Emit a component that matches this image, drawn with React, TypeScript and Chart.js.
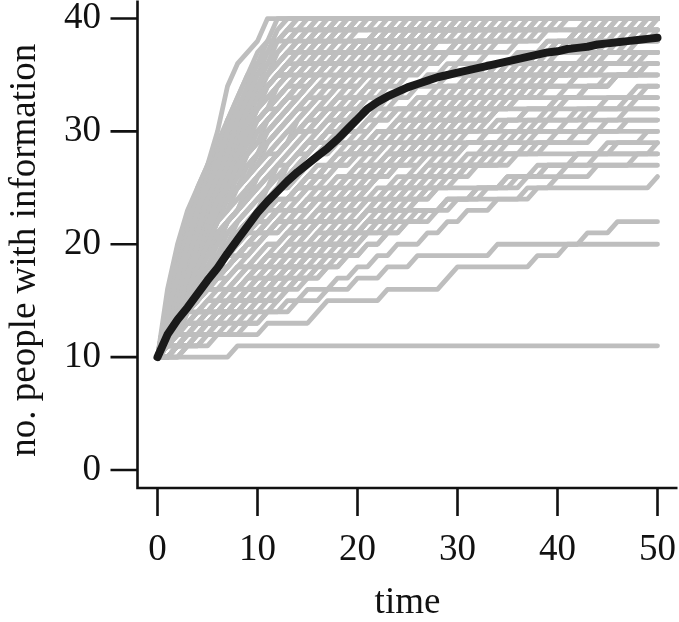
import React, { useEffect, useRef } from "react";
import { Chart, registerables } from "chart.js";

Chart.register(...registerables);

// ---------- data ----------
const initialInformed = 10;
const timePoints = [
  0, 1, 2, 3, 4, 5, 6, 7, 8, 9, 10, 11, 12, 13, 14, 15, 16, 17, 18, 19, 20,
  21, 22, 23, 24, 25, 26, 27, 28, 29, 30, 31, 32, 33, 34, 35, 36, 37, 38, 39,
  40, 41, 42, 43, 44, 45, 46, 47, 48, 49, 50,
];
const xTickValues = [0, 10, 20, 30, 40, 50];
const yTickValues = [0, 10, 20, 30, 40];
const xAxisTitle = "time";
const yAxisTitle = "no. people with information";

// average number of informed people over all runs
const meanInformed = [
  10, 12.0, 13.3, 14.4, 15.6, 16.8, 17.9, 19.2, 20.4, 21.6, 22.8, 23.8, 24.7,
  25.6, 26.4, 27.1, 27.8, 28.5, 29.3, 30.2, 31.1, 32.0, 32.6, 33.1, 33.5, 33.9,
  34.2, 34.5, 34.8, 35.0, 35.2, 35.4, 35.6, 35.8, 36.0, 36.2, 36.4, 36.6, 36.8,
  37.0, 37.1, 37.3, 37.4, 37.5, 37.7, 37.8, 37.9, 38.0, 38.1, 38.2, 38.3,
];

// each run: the times at which one more person became informed
const fastRuns = [
  [1,1,1,1,1,1,2,2,2,2,3,3,3,4,4,5,5,6,6,6,7,7,7,7,8,8,9,10,11,11],
  [1,1,1,1,2,2,2,3,3,3,4,4,4,5,5,6,6,7,7,7,8,8,9,9,10,10,11,11,12,12],
  [1,1,1,2,2,2,3,3,3,4,4,5,5,5,6,6,7,7,8,8,8,9,9,10,10,11,12,12,13,14],
  [1,1,1,1,1,2,2,2,3,3,4,4,4,5,5,6,6,6,7,7,8,9,9,10,11,11,12,13,14,15],
  [1,1,1,1,2,2,2,2,3,3,3,4,4,5,5,5,6,6,7,7,7,8,8,9,9,10,10,11,13,16],
  [1,1,1,2,2,3,3,3,3,4,4,5,5,6,6,6,6,7,7,8,8,9,9,9,10,10,11,12,12,13],
  [1,1,2,2,2,3,3,4,4,4,5,5,5,6,6,7,7,8,8,8,9,9,10,10,11,12,13,14,16,18],
  [1,1,1,1,1,2,2,2,2,3,3,3,4,4,5,5,6,6,7,7,8,8,9,10,11,12,13,15,17,20],
  [1,1,1,2,2,2,2,3,3,4,4,4,5,5,6,6,7,7,7,8,8,9,9,10,10,11,11,12,14,17],
  [1,1,2,2,2,2,3,3,3,4,4,5,5,6,6,6,7,7,8,8,9,9,10,10,11,12,12,13,15,19],
  [1,1,1,1,2,2,2,3,3,3,3,4,4,5,5,6,6,6,7,7,7,8,8,9,9,10,11,12,13,14],
  [1,1,1,1,1,2,2,2,2,3,3,3,4,4,4,5,5,6,6,7,8,9,10,11,12,13,14,15,16,17],
  [1,1,1,2,2,2,2,2,3,3,3,4,4,4,5,5,6,6,7,7,8,9,10,11,12,14,15,17,18,21],
  [1,1,2,2,3,3,3,4,4,4,5,5,5,6,6,7,7,8,8,9,9,10,11,11,12,13,14,15,17,19],
  [1,1,1,2,2,3,3,4,4,5,5,5,6,6,7,8,8,9,10,10,11,12,13,14,15,16,18,20,23,25],
  [1,1,1,1,1,2,2,2,3,3,4,4,4,5,5,6,6,7,7,8,8,9,10,10,11,12,13,15,16,18],
  [1,1,1,2,2,2,2,3,3,3,4,4,5,5,6,6,7,7,8,8,9,9,10,11,12,13,14,15,17,20],
];

const intermediateRuns = [
  [1,1,1,2,2,3,3,4,4,5,5,6,6,7,7,8,8,9,9,10,10,11,12,13,14,15,16,17,19,21],
  [1,1,2,2,2,3,3,3,4,4,5,5,6,6,6,7,7,8,9,9,10,11,12,12,13,14,15,16,17,18],
  [1,1,1,1,2,2,3,3,3,4,4,5,6,6,7,8,8,9,10,11,12,13,14,15,16,17,18,20,22,23],
  [1,1,1,2,2,2,3,3,3,4,4,4,5,5,6,6,7,7,8,8,9,10,11,12,13,14,16,17,19,22],
  [1,1,2,2,3,3,3,4,4,5,5,5,6,6,7,7,8,8,9,9,10,10,11,12,13,14,15,16,18,20],
  [1,1,1,1,1,2,2,2,3,3,3,4,4,5,5,6,7,7,8,9,10,11,12,13,14,15,16,17,18,19],
  [1,1,1,2,2,2,3,3,4,4,4,5,5,6,6,7,7,7,8,8,9,9,10,11,11,12,13,14,15,16],
  [1,1,2,2,2,2,3,3,4,4,5,5,6,6,7,7,8,8,9,10,11,12,13,14,15,16,17,18,20,24],
  [1,1,1,2,2,3,3,4,4,4,5,5,6,7,7,8,9,9,10,11,12,13,14,15,16,17,19,21,23,26],
  [1,1,1,1,2,2,2,3,3,4,4,5,5,6,6,7,8,8,9,10,11,12,13,15,16,17,19,21,24,28],
  [1,1,2,2,3,3,3,4,4,5,5,6,6,7,8,8,9,10,11,12,13,14,16,17,19,20,22,25,28,31],
  [1,1,1,2,2,3,3,3,4,4,5,6,6,7,7,8,9,10,11,12,13,14,15,17,18,20,22,24,27,30],
  [1,2,2,2,3,3,4,4,5,5,6,6,7,7,8,9,10,11,12,13,14,15,16,18,19,21,23,26,29,33],
  [1,1,1,2,2,2,3,3,4,5,5,6,6,7,8,9,10,10,11,12,13,14,15,16,18,20,22,25,28,32],
  [1,1,2,2,3,4,4,5,5,6,7,7,8,9,10,11,12,13,14,15,17,18,20,22,24,26,29,32,36,40],
  [1,1,1,2,2,3,3,4,5,5,6,7,8,9,9,10,11,12,13,14,15,17,18,19,21,23,26,30,34,38],
  [1,1,2,2,3,3,4,5,6,6,7,8,9,10,11,12,14,15,16,18,19,21,23,25,27,30,33,36,39,43],
  [1,1,1,1,2,2,2,3,3,4,4,5,6,7,8,9,10,11,13,14,16,17,19,21,23,26,29,33,38,44],
];

const lateFinishRuns = [
  [1,1,1,1,2,2,2,2,3,3,3,4,4,4,5,5,5,6,6,7,7,8,9,10,12,14,16,19,23,28],
  [1,1,1,2,2,2,3,3,3,4,4,5,5,6,6,7,7,8,8,9,10,11,13,14,16,18,21,24,27,33],
  [1,1,2,2,2,3,3,4,4,5,5,6,6,6,7,7,8,8,9,9,10,11,12,13,15,17,20,22,26,30],
  [1,1,1,1,1,2,2,2,3,3,3,4,4,5,5,6,6,7,7,8,9,9,10,11,12,14,17,21,25,31],
  [1,1,2,2,3,3,3,4,4,4,5,5,6,6,7,7,8,8,9,9,10,10,11,11,12,13,14,16,19,25],
  [1,1,1,2,2,3,3,3,4,4,5,5,6,6,7,7,8,8,8,9,9,10,10,11,12,13,15,18,22,26],
  [1,1,1,1,2,2,2,3,3,4,4,4,5,5,6,6,7,7,8,8,9,10,11,12,13,15,17,20,24,29],
  [1,1,2,2,2,3,3,3,4,4,5,5,5,6,6,7,7,8,9,9,10,11,12,13,14,16,18,21,26,35],
  [1,1,2,2,3,3,4,4,4,5,5,6,6,7,7,8,8,9,10,11,11,12,13,14,15,17,19,22,27,32],
  [1,1,1,2,2,3,3,4,4,5,5,6,6,7,7,8,9,9,10,11,12,13,14,15,16,17,19,21,25,29],
  [1,1,2,2,2,3,3,4,4,5,5,5,6,7,7,8,8,9,9,10,11,12,13,14,15,16,18,20,23,27],
  [2,3,5,7,8,10,12,13,15,16,18,19,21,22,24,25,27,28,30,31,33,34,36,38,40,42,44,46,48,50],
];

const mediumRuns = [
  [1,1,2,2,3,3,4,4,5,5,6,6,7,7,8,9,9,10,11,11,12,13,14,15,16,17,18,20,22,24],
  [1,1,1,2,2,3,3,4,4,5,6,6,7,8,8,9,10,11,11,12,13,14,15,16,17,19,20,22,25,27],
  [1,1,2,2,2,3,4,4,5,6,6,7,8,9,9,10,11,12,13,14,14,15,16,17,18,19,21,23,26,30],
  [1,2,2,3,3,4,4,5,5,6,7,7,8,9,10,10,11,12,13,14,15,16,17,18,19,20,21,22,24,26],
  [1,1,1,2,2,3,3,3,4,5,5,6,7,8,9,10,11,12,13,14,16,17,18,20,21,23,25,28,31,35],
  [1,1,2,3,3,4,5,5,6,7,8,8,9,10,11,12,12,13,14,15,16,17,18,19,20,22,24,26,29,33],
  [1,2,2,3,4,4,5,6,7,7,8,9,10,11,11,12,13,14,15,16,17,19,20,22,23,25,27,30,32,34],
  [1,1,1,2,2,3,3,4,5,5,6,7,8,9,10,11,13,14,15,17,18,19,21,22,24,26,28,30,33,37],
  [1,1,2,2,3,3,3,4,5,6,6,7,8,9,10,10,11,12,13,14,15,16,17,18,20,21,23,24,27,29],
  [1,2,2,2,3,4,4,5,6,7,7,8,9,10,11,12,13,14,16,17,18,20,21,23,24,26,28,31,34,38],
  [1,1,1,1,2,2,3,3,4,4,5,5,6,7,8,9,10,11,12,13,15,16,18,19,21,22,25,28,32,36],
  [1,1,2,3,3,4,5,6,6,7,8,9,10,11,12,13,14,15,16,17,18,19,20,21,22,23,25,27,29,31],
  [1,2,3,3,4,5,5,6,7,8,9,10,11,12,12,13,14,15,16,17,18,19,20,21,23,24,26,28,30,32],
  [1,1,2,2,3,4,5,6,7,8,8,9,10,11,12,13,14,15,16,17,19,20,22,23,25,27,29,32,35,39],
  [1,1,1,2,3,4,4,5,6,7,8,9,10,11,12,14,15,16,18,19,21,22,24,25,27,29,31,34,37,41],
  [1,2,2,3,3,4,5,6,7,7,8,9,10,11,12,13,13,14,15,16,17,18,19,21,22,24,25,27,29,31],
];

const slowRuns = [
  [1,1,2,3,4,5,5,6,7,8,9,10,12,13,14,16,17,19,20,22,24,25,27,29,31,33,36,39,42,45],
  [1,2,2,3,4,5,6,7,8,9,10,11,12,14,15,17,18,20,22,23,25,27,29,30,32,34,37,40,43,47],
  [1,1,1,2,3,3,4,5,6,7,8,9,11,12,14,15,17,19,21,23,25,27,29,31,33,35,38,41,44,49],
  [1,2,3,3,4,5,6,8,9,10,11,13,14,16,17,18,20,21,23,24,26,28,30,32,34,36,38,40,42,44],
  [1,1,2,2,3,4,5,6,7,9,10,12,13,15,16,18,20,22,23,25,27,28,30,33,35,37,39,41,45,48],
  [1,2,2,3,3,4,6,7,8,10,11,13,15,16,18,19,21,23,24,26,28,29,31,33,35,36,38,41,43,46],
  [1,1,2,3,4,5,7,8,10,11,13,14,16,18,19,21,22,24,26,27,29,31,32,34,36,37,39,42,45,50],
  [1,1,1,2,2,3,4,5,6,7,8,10,11,12,14,15,17,19,21,24,26,28,31,33,35,38,40,42,44,46],
  [1,3,6,8,10,11,12,14,15,16,17,18,19,20,21,22,23,24,25,27,28,29,30,31,33,35,37,39,42,45],
  [1,2,4,5,7,8,10,12,13,15,17,18,20,21,23,24,26,27,29,30,32,34,35,37,39,41,43,45,47,49],
];

const unfinishedRuns = [
  [8],
  [2,4,11,16,17,23,29,30,38,41,43,46],
  [3,6,9,11,14,17,20,23,26,34],
  [1,2,4,5,7,9,11,13,15,17,20,22,25,29,38,50],
  [1,1,3,4,6,7,9,11,12,14,16,19,21,24,28,37,41],
  [1,2,2,3,5,6,8,9,11,13,14,16,18,21,23,26,31,36,50],
  [1,1,2,3,4,5,7,8,10,11,13,15,17,19,22,25,28,33,39,44],
  [1,1,2,2,3,4,5,7,8,9,11,12,14,16,18,20,23,27,31,37,45],
  [1,1,2,3,3,4,5,6,8,9,10,12,13,15,17,19,21,24,28,33,38,43],
  [1,2,2,3,4,5,6,7,8,10,11,12,14,15,17,19,21,23,26,29,34,40,47],
  [1,1,1,2,3,4,5,6,7,8,9,11,12,13,15,16,18,20,22,25,29,34,41,49],
  [1,1,2,2,3,4,5,6,7,8,9,10,12,13,14,16,17,19,21,24,27,30,35,41,46],
  [1,1,2,3,3,4,5,6,7,8,9,10,11,13,14,15,17,18,20,22,25,28,31,36,42,48],
  [1,1,1,2,2,3,4,5,6,7,8,9,10,11,12,14,15,16,18,20,22,24,27,30,34,39,45],
  [1,1,2,2,3,4,4,5,6,7,8,9,10,11,12,13,15,16,17,19,21,23,26,29,32,36,40,44],
  [1,2,3,3,4,5,6,7,8,9,10,11,12,13,14,16,17,19,20,22,24,26,28,31,34,38,43,47],
  [1,1,1,2,2,3,3,4,5,6,7,7,8,9,10,11,12,14,15,17,19,21,23,26,29,33,37,42,48],
  [1,2,2,3,4,5,6,7,8,9,10,11,12,13,14,15,16,18,19,21,22,24,26,28,31,34,38,43,46],
  [1,2,3,4,6,7,9,10,12,13,15,16,18,19,21,22,24,26,28,30,32,34,36,39,42,45,49],
  [2,3,5,6,8,9,11,13,14,16,18,20,21,23,25,27,29,31,33,35,37,39,41,43,45],
  [2,4,5,7,9,11,12,14,16,18,20,22,24,26,28,30,32,35,38,42,47],
  [1,3,5,7,9,12,14,16,19,21,23,25,27,29,32,35,38,42,46],
  [2,5,8,10,12,13,15,17,18,20,21,23,24,26,27,29,31,33,35,38,41,44,48],
  [2,4,7,9,11,13,14,16,17,19,20,21,23,24,25,27,28,30,31,33,35,37,40,43,46,49],
  [3,5,8,11,13,15,18,20,22,24,27,29,31,34,37,40,44,48],
  [2,3,5,6,7,9,10,11,13,14,15,16,18,19,20,22,23,25,26,28,30,32,34,37,40,43,47],
  [1,3,4,6,8,9,11,12,13,15,16,17,19,20,21,22,24,25,27,28,30,31,33,35,38,41,44,48,50],
  [2,4,6,7,9,11,13,15,17,19,21,24,26,29,32,35,39,44],
  [1,2,3,5,6,8,9,10,12,13,14,16,17,18,20,21,23,24,26,28,29,31,33,36,38,41,44],
  [1,2,3,4,5,7,8,9,11,12,13,15,16,17,19,20,22,23,25,27,29,31,34,37,40,44,48],
  [1,1,3,4,6,7,9,10,11,13,14,16,17,19,20,22,24,25,27,29,31,33,35,37,39,42,45,47],
  [1,3,5,6,8,10,12,14,15,17,19,21,22,24,26,28,30,32,34,36,39,42,45,48],
  [2,3,4,6,8,10,11,13,15,17,19,21,23,25,27,29,31,34,37,40,43,47],
  [1,2,4,6,7,9,11,12,14,16,17,19,21,22,24,26,27,29,31,33,35,37,40,43,46,49],
  [2,4,6,8,10,12,14,17,19,21,23,25,28,30,33,36,39,42,45,49],
  [1,2,3,5,6,7,9,10,11,13,14,15,17,18,20,21,23,24,26,27,29,31,33,35,37,40,43,46,49],
];

// ---------- styling ----------
const FONT = '"Liberation Serif", "Times New Roman", serif';
const INK = "#111111";
const RUN_COLOR = "#bebebe";

const runToPoints = (events: number[]) =>
  timePoints.map((t) => ({
    x: t,
    y: initialInformed + events.filter((e) => e <= t).length,
  }));

const rAxesPlugin = {
  id: "rAxes",
  afterDraw(chart: any) {
    const { ctx, chartArea, scales } = chart;
    const xs = scales.x;
    const ys = scales.y;
    const tick = 27;
    ctx.save();
    ctx.strokeStyle = INK;
    ctx.lineWidth = 2.6;
    ctx.lineCap = "butt";
    ctx.lineJoin = "miter";
    ctx.beginPath();
    ctx.moveTo(chartArea.left, chartArea.top);
    ctx.lineTo(chartArea.left, chartArea.bottom);
    ctx.lineTo(chartArea.right, chartArea.bottom);
    ctx.stroke();

    ctx.beginPath();
    yTickValues.forEach((v) => {
      const py = ys.getPixelForValue(v);
      ctx.moveTo(chartArea.left - tick, py);
      ctx.lineTo(chartArea.left, py);
    });
    xTickValues.forEach((v) => {
      const px = xs.getPixelForValue(v);
      ctx.moveTo(px, chartArea.bottom);
      ctx.lineTo(px, chartArea.bottom + tick + 1);
    });
    ctx.stroke();

    ctx.fillStyle = INK;
    ctx.font = `37px ${FONT}`;
    ctx.textAlign = "right";
    ctx.textBaseline = "middle";
    yTickValues.forEach((v) => {
      ctx.fillText(String(v), 101, ys.getPixelForValue(v));
    });
    ctx.textAlign = "center";
    ctx.textBaseline = "alphabetic";
    xTickValues.forEach((v) => {
      ctx.fillText(String(v), xs.getPixelForValue(v), 560);
    });
    ctx.fillText(xAxisTitle, (chartArea.left + chartArea.right) / 2, 613);

    ctx.translate(35, (chartArea.top + chartArea.bottom) / 2 + 6);
    ctx.rotate(-Math.PI / 2);
    ctx.fillText(yAxisTitle, 0, 0);
    ctx.restore();
  },
};

export default function App() {
  const canvasRef = useRef<HTMLCanvasElement | null>(null);

  useEffect(() => {
    if (!canvasRef.current) return;
    const allRuns = [
      ...fastRuns,
      ...intermediateRuns,
      ...lateFinishRuns,
      ...mediumRuns,
      ...slowRuns,
      ...unfinishedRuns,
    ];
    const runDatasets = allRuns.map((events) => ({
      data: runToPoints(events),
      borderColor: RUN_COLOR,
      borderWidth: 4.8,
      borderCapStyle: "round" as const,
      borderJoinStyle: "round" as const,
      pointRadius: 0,
      fill: false,
      tension: 0,
      order: 1,
    }));
    const meanDataset = {
      data: timePoints.map((t, i) => ({ x: t, y: meanInformed[i] })),
      borderColor: "#1a1a1a",
      borderWidth: 8,
      borderCapStyle: "round" as const,
      borderJoinStyle: "round" as const,
      pointRadius: 0,
      fill: false,
      tension: 0,
      order: 0,
    };

    const chart = new Chart(canvasRef.current, {
      type: "line",
      data: { datasets: [meanDataset, ...runDatasets] as any },
      options: {
        animation: false,
        responsive: false,
        devicePixelRatio: 1,
        events: [],
        layout: { padding: { left: 137.5, right: 1.5, top: 0.5, bottom: 134 } },
        plugins: { legend: { display: false }, tooltip: { enabled: false } },
        scales: {
          x: { type: "linear", min: -2, max: 52, display: false },
          y: { type: "linear", min: -1.6, max: 41.6, display: false },
        },
      },
      plugins: [rAxesPlugin],
    });
    return () => chart.destroy();
  }, []);

  return (
    <div style={{ position: "fixed", left: 0, top: 0, width: 679, height: 622, background: "#fff" }}>
      <canvas ref={canvasRef} width={679} height={622} style={{ width: 679, height: 622 }} />
    </div>
  );
}
